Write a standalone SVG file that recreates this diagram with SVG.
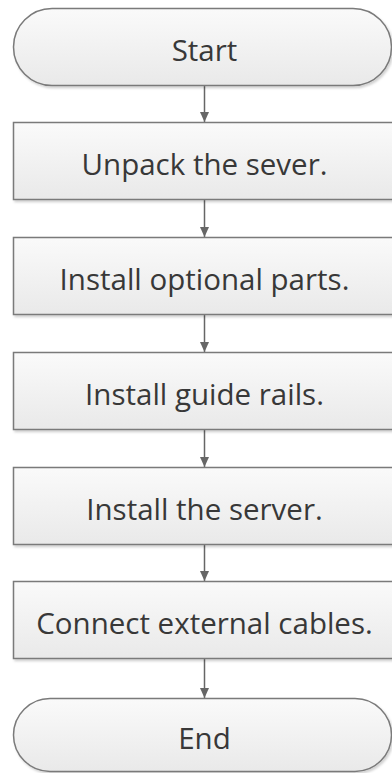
<svg xmlns="http://www.w3.org/2000/svg" width="392" height="773" viewBox="0 0 392 773">
<defs>
<linearGradient id="g" x1="0" y1="0" x2="0" y2="1">
<stop offset="0" stop-color="#fafafa"/>
<stop offset="1" stop-color="#e9e9e9"/>
</linearGradient>
<filter id="sh" x="-5%" y="-10%" width="110%" height="130%">
<feDropShadow dx="1.5" dy="2" stdDeviation="1.2" flood-color="#000" flood-opacity="0.18"/>
</filter>
<marker id="ah" markerWidth="10" markerHeight="9" refX="10" refY="4.5" orient="auto" markerUnits="userSpaceOnUse">
<path d="M0,0 L10,4.5 L0,9 Z" fill="#666"/>
</marker>
</defs>
<style>
.shape{fill:url(#g);stroke:#7a7a7a;stroke-width:1.5;filter:url(#sh)}
.lbl{font-family:"Open Sans","Noto Sans",sans-serif;font-size:29.5px;fill:#383838;text-anchor:middle}
.conn{stroke:#666;stroke-width:1.5;fill:none;marker-end:url(#ah)}
</style>
<g id="connectors">
<line class="conn" x1="204.5" y1="86" x2="204.5" y2="122"/>
<line class="conn" x1="204.5" y1="199" x2="204.5" y2="237"/>
<line class="conn" x1="204.5" y1="314" x2="204.5" y2="352"/>
<line class="conn" x1="204.5" y1="429" x2="204.5" y2="467"/>
<line class="conn" x1="204.5" y1="544" x2="204.5" y2="581"/>
<line class="conn" x1="204.5" y1="659" x2="204.5" y2="698"/>
</g>
<g id="start">
<rect class="shape" x="13.5" y="8.5" width="378" height="77" rx="38.5" ry="38.5"/>
<text class="lbl" x="204.5" y="61">Start</text>
</g>
<g id="unpack">
<rect class="shape" x="13.5" y="122.5" width="385" height="77"/>
<text class="lbl" x="204.5" y="175">Unpack the sever.</text>
</g>
<g id="optional">
<rect class="shape" x="13.5" y="237.5" width="385" height="77"/>
<text class="lbl" x="204.5" y="290">Install optional parts.</text>
</g>
<g id="rails">
<rect class="shape" x="13.5" y="352.5" width="385" height="77"/>
<text class="lbl" x="204.5" y="405">Install guide rails.</text>
</g>
<g id="server">
<rect class="shape" x="13.5" y="467.5" width="385" height="77"/>
<text class="lbl" x="204.5" y="520">Install the server.</text>
</g>
<g id="cables">
<rect class="shape" x="13.5" y="581.5" width="385" height="77"/>
<text class="lbl" x="204.5" y="634">Connect external cables.</text>
</g>
<g id="end">
<rect class="shape" x="13.5" y="698.5" width="378" height="73" rx="36.5" ry="36.5"/>
<text class="lbl" x="204.5" y="749">End</text>
</g>
</svg>
